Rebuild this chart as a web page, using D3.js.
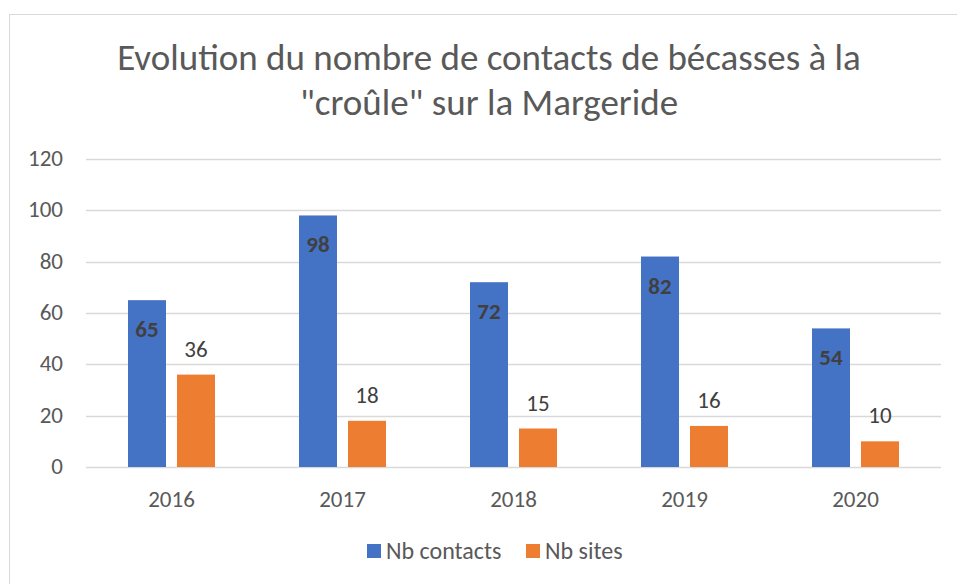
<!DOCTYPE html>
<html>
<head>
<meta charset="utf-8">
<script src="https://cdn.jsdelivr.net/npm/d3@7"></script>
<style>
  body { margin: 0; background: #fff; }
  svg { display: block; }
</style>
</head>
<body>
<div id="chart"></div>
<script>
// data
const years = ["2016", "2017", "2018", "2019", "2020"];
const contacts = [65, 98, 72, 82, 54];
const sites = [36, 18, 15, 16, 10];
const yTicks = [0, 20, 40, 60, 80, 100, 120];
const seriesNames = ["Nb contacts", "Nb sites"];
const colors = ["#4472C4", "#ED7D31"];

const width = 957, height = 584;
const font = "Carlito, Calibri, 'Open Sans', sans-serif";

const svg = d3.select("#chart").append("svg")
    .attr("width", width)
    .attr("height", height)
    .style("font-family", font);

// chart frame
svg.append("rect")
    .attr("x", 9.5).attr("y", 14.5)
    .attr("width", 960).attr("height", 600)
    .attr("fill", "white")
    .attr("stroke", "#d9d9d9");

// title
let title = svg.append("text")
    .attr("text-anchor", "middle")
    .attr("fill", "#595959")
    .style("font-size", "37px");
title.append("tspan").attr("x", 489).attr("y", 70).text("Evolution du nombre de contacts de bécasses à la");
title.append("tspan").attr("x", 489).attr("y", 115).text("\"croûle\" sur la Margeride");

let margin = {left: 86, right: 16, top: 159, bottom: 117};

let x0 = d3.scaleBand()
    .domain(years)
    .range([margin.left, width - margin.right]);

let y = d3.scaleLinear()
    .domain([0, 120])
    .range([height - margin.bottom, margin.top]);

let barW = 38, gap = 11;
let x1 = d3.scaleOrdinal().domain([0, 1]).range([
    (x0.bandwidth() - 2 * barW - gap) / 2,
    (x0.bandwidth() - 2 * barW - gap) / 2 + barW + gap
]);

// gridlines
svg.append("g")
    .selectAll("line")
    .data(yTicks)
    .enter().append("line")
    .attr("x1", margin.left)
    .attr("x2", width - margin.right)
    .attr("y1", d => Math.round(y(d)) + 0.5)
    .attr("y2", d => Math.round(y(d)) + 0.5)
    .attr("stroke", "#d9d9d9")
    .attr("stroke-width", 1.3);

// y axis labels
svg.append("g")
    .selectAll("text")
    .data(yTicks)
    .enter().append("text")
    .attr("x", 63)
    .attr("y", d => y(d) + 7)
    .attr("text-anchor", "end")
    .attr("fill", "#595959")
    .style("font-size", "23px")
    .text(d => d);

// x axis labels
svg.append("g")
    .selectAll("text")
    .data(years)
    .enter().append("text")
    .attr("x", d => x0(d) + x0.bandwidth() / 2)
    .attr("y", 507)
    .attr("text-anchor", "middle")
    .attr("fill", "#595959")
    .style("font-size", "23px")
    .text(d => d);

let rows = years.map((yr, i) => ({year: yr, vals: [contacts[i], sites[i]]}));

let groups = svg.append("g")
    .selectAll("g")
    .data(rows)
    .enter().append("g")
    .attr("transform", d => `translate(${x0(d.year)},0)`);

groups.selectAll("rect")
    .data(d => d.vals.map((v, k) => ({k: k, v: v})))
    .enter().append("rect")
    .attr("x", d => x1(d.k))
    .attr("y", d => y(d.v))
    .attr("width", barW)
    .attr("height", d => y(0) - y(d.v))
    .attr("fill", d => colors[d.k]);

// value labels: bold inside for contacts, above for sites
groups.selectAll("text")
    .data(d => d.vals.map((v, k) => ({k: k, v: v})))
    .enter().append("text")
    .attr("x", d => x1(d.k) + barW / 2)
    .attr("y", d => d.k === 0 ? y(d.v) + 37 : y(d.v) - 18)
    .attr("text-anchor", "middle")
    .attr("fill", "#404040")
    .style("font-size", "23px")
    .style("font-weight", d => d.k === 0 ? "bold" : "normal")
    .text(d => d.v);

// legend
let legend = svg.append("g");
let legX = [367, 526];
seriesNames.forEach((name, i) => {
    legend.append("rect")
        .attr("x", legX[i]).attr("y", 544)
        .attr("width", 14).attr("height", 14)
        .attr("fill", colors[i]);
    legend.append("text")
        .attr("x", legX[i] + 19).attr("y", 559)
        .attr("fill", "#595959")
        .style("font-size", "24px")
        .text(name);
});
</script>
</body>
</html>
